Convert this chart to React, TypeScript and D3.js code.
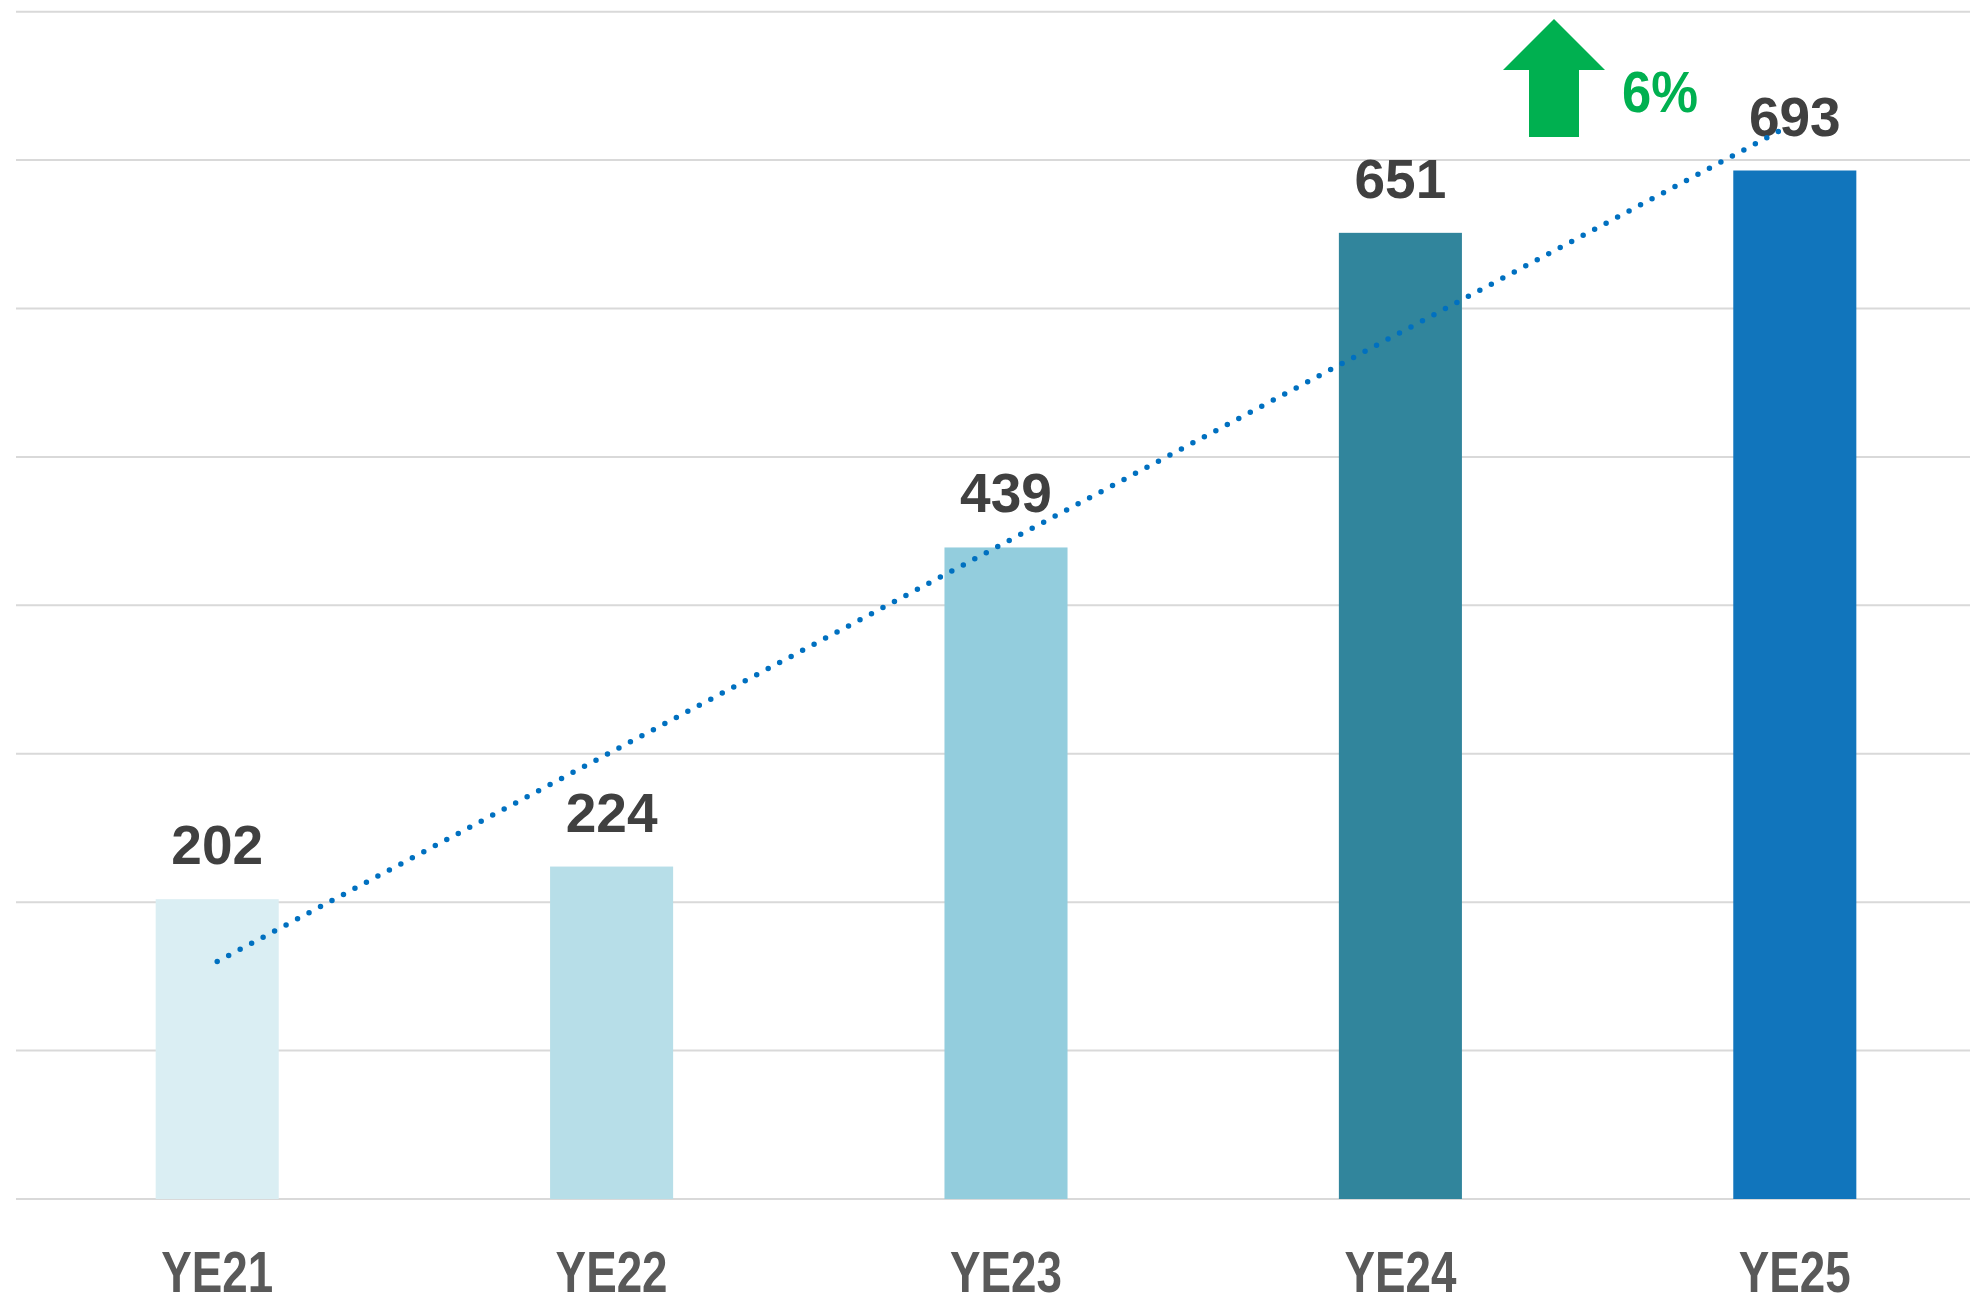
import { useEffect, useRef } from 'react';
import * as d3 from 'd3';

const categories = ['YE21', 'YE22', 'YE23', 'YE24', 'YE25'];
const values = [202, 224, 439, 651, 693];
const barColors = ['#DAEEF3', '#B7DEE8', '#93CDDD', '#31859C', '#1175BC'];
const gridTicks = [0, 100, 200, 300, 400, 500, 600, 700, 800];
const growthLabel = '6%';

const WIDTH = 1970;
const HEIGHT = 1300;

export default function App() {
  const svgRef = useRef<SVGSVGElement>(null);

  useEffect(() => {
    if (!svgRef.current) return;
    const svg = d3.select(svgRef.current);
    svg.selectAll('*').remove();

    const x = d3
      .scaleBand<string>()
      .domain(categories)
      .range([20, 1992])
      .paddingInner(0.688)
      .paddingOuter(0.344);

    const y = d3.scaleLinear().domain([0, 800]).range([1199, 11.7]);

    // gridlines
    svg
      .append('g')
      .selectAll('line')
      .data(gridTicks)
      .enter()
      .append('line')
      .attr('x1', 16)
      .attr('x2', WIDTH)
      .attr('y1', (d) => y(d))
      .attr('y2', (d) => y(d))
      .attr('stroke', '#D9D9D9')
      .attr('stroke-width', 2);

    // bars
    svg
      .append('g')
      .selectAll('rect')
      .data(values)
      .enter()
      .append('rect')
      .attr('x', (_, i) => x(categories[i]) ?? 0)
      .attr('width', x.bandwidth())
      .attr('y', (d) => y(d))
      .attr('height', (d) => y(0) - y(d))
      .attr('fill', (_, i) => barColors[i]);

    // value labels
    svg
      .append('g')
      .selectAll('text')
      .data(values)
      .enter()
      .append('text')
      .attr('x', (_, i) => (x(categories[i]) ?? 0) + x.bandwidth() / 2)
      .attr('y', (d) => y(d) - 35)
      .attr('text-anchor', 'middle')
      .attr('font-family', '"Liberation Sans", Arial, sans-serif')
      .attr('font-weight', 700)
      .attr('font-size', '55px')
      .attr('fill', '#404040')
      .text((d) => d);

    // category labels
    svg
      .append('g')
      .selectAll('text')
      .data(categories)
      .enter()
      .append('text')
      .attr('x', (d) => (x(d) ?? 0) + x.bandwidth() / 2)
      .attr('y', 1292)
      .attr('text-anchor', 'middle')
      .attr('font-family', '"Liberation Sans", Arial, sans-serif')
      .attr('font-weight', 700)
      .attr('font-size', '57px')
      .attr('fill', '#595959')
      .attr('textLength', 112)
      .attr('lengthAdjust', 'spacingAndGlyphs')
      .text((d) => d);

    // linear trendline (least squares over the bar values)
    const idx = values.map((_, i) => i + 1);
    const mx = d3.mean(idx) ?? 0;
    const my = d3.mean(values) ?? 0;
    const slope =
      d3.sum(idx, (xi, i) => (xi - mx) * (values[i] - my)) / d3.sum(idx, (xi) => (xi - mx) ** 2);
    const fit = (xi: number) => my + slope * (xi - mx);
    const centre = (i: number) => (x(categories[i]) ?? 0) + x.bandwidth() / 2;
    const trend: [number, number][] = [
      [centre(0), y(fit(1))],
      [centre(values.length - 1) - 8, y(fit(values.length)) + 2],
    ];
    svg
      .append('path')
      .attr('d', d3.line()(trend) || '')
      .attr('fill', 'none')
      .attr('stroke', '#0070C0')
      .attr('stroke-width', 5.5)
      .attr('stroke-linecap', 'round')
      .attr('stroke-dasharray', '0 13');

    // growth arrow + label
    const ax = 1554;
    const arrow = svg.append('g').attr('fill', '#00B050');
    arrow
      .append('polygon')
      .attr(
        'points',
        [
          [ax, 19],
          [ax + 51, 70],
          [ax + 25, 70],
          [ax + 25, 137],
          [ax - 25, 137],
          [ax - 25, 70],
          [ax - 51, 70],
        ]
          .map((p) => p.join(','))
          .join(' ')
      );
    arrow
      .append('text')
      .attr('x', 1622)
      .attr('y', 112)
      .attr('font-family', '"Liberation Sans", Arial, sans-serif')
      .attr('font-weight', 700)
      .attr('font-size', '57px')
      .attr('textLength', 76)
      .attr('lengthAdjust', 'spacingAndGlyphs')
      .text(growthLabel);
  }, []);

  return (
    <div style={{ position: 'fixed', left: 0, top: 0, background: '#fff' }}>
      <svg ref={svgRef} width={WIDTH} height={HEIGHT} style={{ display: 'block' }} />
    </div>
  );
}
